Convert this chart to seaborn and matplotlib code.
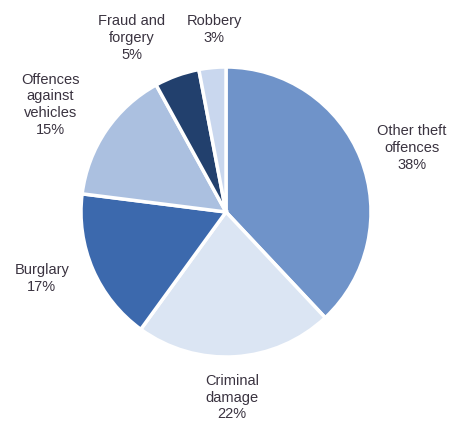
import matplotlib
matplotlib.use("Agg")
import matplotlib.pyplot as plt
import seaborn as sns

categories = ["Other theft\noffences", "Criminal\ndamage", "Burglary",
              "Offences\nagainst\nvehicles", "Fraud and\nforgery", "Robbery"]
values = [38, 22, 17, 15, 5, 3]
colors = ["#6f93c9", "#dbe5f3", "#3c69ad", "#abc0e0", "#22406d", "#c9d7ee"]
# label anchor positions (in pie radius units)
label_pos = [(1.28, 0.44), (0.04, -1.28), (-1.27, -0.46),
             (-1.21, 0.74), (-0.65, 1.20), (-0.08, 1.26)]

sns.set_theme(style="white")
plt.rcParams['font.family'] = ['Liberation Sans', 'DejaVu Sans']

fig = plt.figure(figsize=(4.54, 4.25), dpi=100)
ax = fig.add_axes([0, 0, 1, 1])
ax.pie(values, colors=colors, startangle=90, counterclock=False,
       radius=1.0, center=(0, 0),
       wedgeprops=dict(edgecolor="white", linewidth=2.5))
for cat, v, (x, y) in zip(categories, values, label_pos):
    ax.text(x, y, f"{cat}\n{v}%", ha="center", va="center",
            fontsize=10.5, color="#3a3340", linespacing=1.25)
ax.set_xlim(-226 / 145, (454 - 226) / 145)
ax.set_ylim(-(425 - 212) / 145, 212 / 145)
ax.set_aspect("auto")
ax.axis("off")
fig.savefig("out.png", dpi=100, facecolor="white")
